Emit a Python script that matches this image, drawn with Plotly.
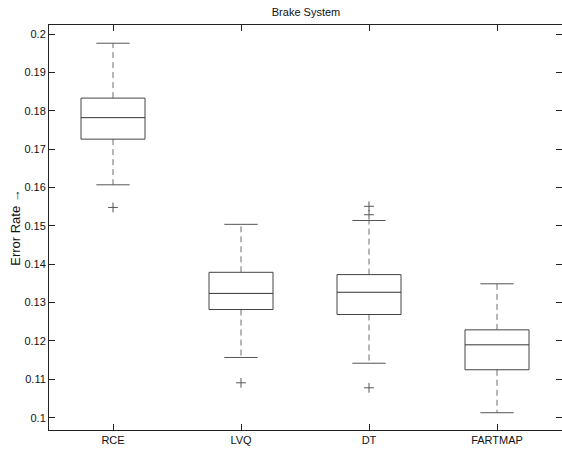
import plotly.graph_objects as go

categories = ["RCE", "LVQ", "DT", "FARTMAP"]
upper_whisker = [0.1976, 0.1504, 0.1514, 0.1349]
q3 = [0.1833, 0.1379, 0.1373, 0.1229]
median = [0.1782, 0.1324, 0.1327, 0.1190]
q1 = [0.1726, 0.1282, 0.1269, 0.1125]
lower_whisker = [0.1607, 0.1157, 0.1142, 0.1013]
outliers = [[0.1548], [0.1091], [0.1551, 0.1529, 0.1078], []]
y_ticks = [0.10, 0.11, 0.12, 0.13, 0.14, 0.15, 0.16, 0.17, 0.18, 0.19, 0.20]
y_tick_text = ["0.1", "0.11", "0.12", "0.13", "0.14", "0.15", "0.16", "0.17", "0.18", "0.19", "0.2"]

pos = list(range(1, len(categories) + 1))
bw = 0.25   # half box width
cw = 0.13   # half cap width

box_x, box_y, med_x, med_y = [], [], [], []
wh_x, wh_y, cap_x, cap_y = [], [], [], []
out_x, out_y = [], []
for i, c in enumerate(pos):
    box_x += [c - bw, c + bw, c + bw, c - bw, c - bw, None]
    box_y += [q1[i], q1[i], q3[i], q3[i], q1[i], None]
    med_x += [c - bw, c + bw, None]
    med_y += [median[i], median[i], None]
    wh_x += [c, c, None, c, c, None]
    wh_y += [q3[i], upper_whisker[i], None, q1[i], lower_whisker[i], None]
    cap_x += [c - cw, c + cw, None, c - cw, c + cw, None]
    cap_y += [upper_whisker[i], upper_whisker[i], None, lower_whisker[i], lower_whisker[i], None]
    for v in outliers[i]:
        out_x.append(c)
        out_y.append(v)

fig = go.Figure()
fig.add_trace(go.Scatter(x=wh_x, y=wh_y, mode="lines",
                         line=dict(color="#6e6e6e", width=1, dash="6px,4px"),
                         hoverinfo="skip", showlegend=False))
fig.add_trace(go.Scatter(x=cap_x, y=cap_y, mode="lines",
                         line=dict(color="#555555", width=1),
                         hoverinfo="skip", showlegend=False))
fig.add_trace(go.Scatter(x=box_x, y=box_y, mode="lines",
                         line=dict(color="#444444", width=1),
                         hoverinfo="skip", showlegend=False))
fig.add_trace(go.Scatter(x=med_x, y=med_y, mode="lines",
                         line=dict(color="#333333", width=1),
                         hoverinfo="skip", showlegend=False))
fig.add_trace(go.Scatter(x=out_x, y=out_y, mode="markers",
                         marker=dict(symbol="cross-thin", size=7,
                                     line=dict(color="#555555", width=1)),
                         showlegend=False))
fig.add_trace(go.Scatter(x=[None], y=[None], yaxis="y2", showlegend=False,
                         hoverinfo="skip"))

font = dict(family="Liberation Sans, Arial, sans-serif", size=11, color="#111111")
fig.update_layout(
    width=562, height=453,
    margin=dict(l=49, r=0, t=25, b=23),
    paper_bgcolor="white", plot_bgcolor="white",
    font=font,
    title=dict(text="Brake System", x=0.5445, xref="container", xanchor="center",
               y=1 - 12 / 453, yref="container", yanchor="middle",
               font=dict(size=11)),
    xaxis=dict(range=[0.5, 4.5078], tickvals=pos, ticktext=categories,
               ticks="inside", ticklen=6, tickcolor="#222", showline=True,
               linecolor="#222", linewidth=1, mirror="ticks", showgrid=False,
               zeroline=False, fixedrange=True),
    yaxis=dict(range=[0.0968, 0.20235], tickvals=y_ticks, ticktext=y_tick_text,
               ticks="inside", ticklen=6, tickcolor="#222", showline=True,
               linecolor="#222", linewidth=1, showgrid=False, zeroline=False,
               title=dict(text="Error Rate →", standoff=0), fixedrange=True),
    yaxis2=dict(overlaying="y", side="right", matches="y", tickvals=y_ticks,
                showticklabels=False, ticks="inside", ticklen=6, tickcolor="#222",
                showline=False, showgrid=False, zeroline=False),
)
fig.write_html("out.html")
